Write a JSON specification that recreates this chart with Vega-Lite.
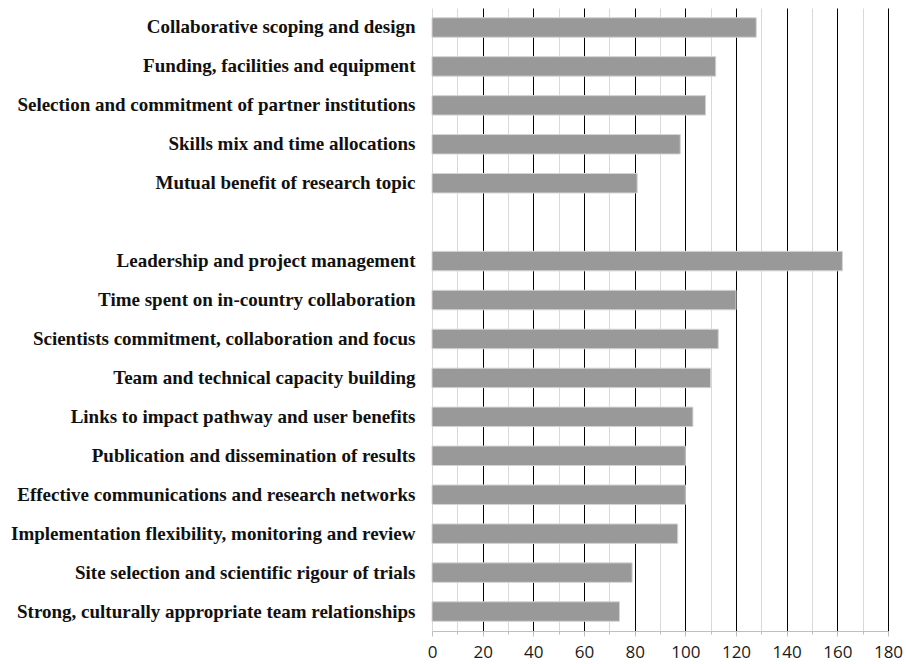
{
  "$schema": "https://vega.github.io/schema/vega-lite/v6.json",
  "autosize": "none",
  "padding": {"left": 432, "top": 8, "right": 18, "bottom": 33},
  "width": 456,
  "height": 623,
  "background": "white",
  "data": {
    "values": [
      {"factor": "Collaborative scoping and design", "count": 128},
      {"factor": "Funding, facilities and equipment", "count": 112},
      {"factor": "Selection and commitment of partner institutions", "count": 108},
      {"factor": "Skills mix and time allocations", "count": 98},
      {"factor": "Mutual benefit of research topic", "count": 81},
      {"factor": "Leadership and project management", "count": 162},
      {"factor": "Time spent on in-country collaboration", "count": 120},
      {"factor": "Scientists commitment, collaboration and focus", "count": 113},
      {"factor": "Team and technical capacity building", "count": 110},
      {"factor": "Links to impact pathway and user benefits", "count": 103},
      {"factor": "Publication and dissemination of results", "count": 100},
      {"factor": "Effective communications and research networks", "count": 100},
      {"factor": "Implementation flexibility, monitoring and review", "count": 97},
      {"factor": "Site selection and scientific rigour of trials", "count": 79},
      {"factor": "Strong, culturally appropriate team relationships", "count": 74}
    ]
  },
  "mark": {"type": "bar", "color": "#999999", "stroke": "#d4d4d4", "strokeWidth": 1},
  "encoding": {
    "y": {
      "field": "factor",
      "type": "nominal",
      "sort": null,
      "scale": {
        "domain": [
          "Collaborative scoping and design",
          "Funding, facilities and equipment",
          "Selection and commitment of partner institutions",
          "Skills mix and time allocations",
          "Mutual benefit of research topic",
          " ",
          "Leadership and project management",
          "Time spent on in-country collaboration",
          "Scientists commitment, collaboration and focus",
          "Team and technical capacity building",
          "Links to impact pathway and user benefits",
          "Publication and dissemination of results",
          "Effective communications and research networks",
          "Implementation flexibility, monitoring and review",
          "Site selection and scientific rigour of trials",
          "Strong, culturally appropriate team relationships"
        ],
        "paddingInner": 0.5,
        "paddingOuter": 0.25
      },
      "axis": {
        "title": null,
        "domain": false,
        "ticks": false,
        "labelFont": "Liberation Serif",
        "labelFontWeight": "bold",
        "labelFontSize": 19,
        "labelColor": "#111111",
        "labelPadding": 17,
        "labelLimit": 500
      }
    },
    "x": {
      "field": "count",
      "type": "quantitative",
      "scale": {"domain": [0, 180], "nice": false},
      "axis": {
        "title": null,
        "values": [0, 10, 20, 30, 40, 50, 60, 70, 80, 90, 100, 110, 120, 130, 140, 150, 160, 170, 180],
        "labelExpr": "datum.value % 20 === 0 ? datum.label : ''",
        "labelFlush": false,
        "labelOverlap": false,
        "labelFont": "Open Sans",
        "labelFontSize": 17,
        "labelColor": "#1a1a1a",
        "labelPadding": 8,
        "domainColor": "#bfbfbf",
        "tickColor": "#bfbfbf",
        "tickSize": {"condition": {"test": "datum.value % 20 === 0", "value": 5}, "value": 3},
        "grid": true,
        "gridColor": {"condition": {"test": "datum.value % 20 === 0 && datum.value > 0", "value": "#000000"}, "value": "#d9d9d9"},
        "gridWidth": 1
      }
    }
  },
  "config": {"view": {"stroke": null}}
}
